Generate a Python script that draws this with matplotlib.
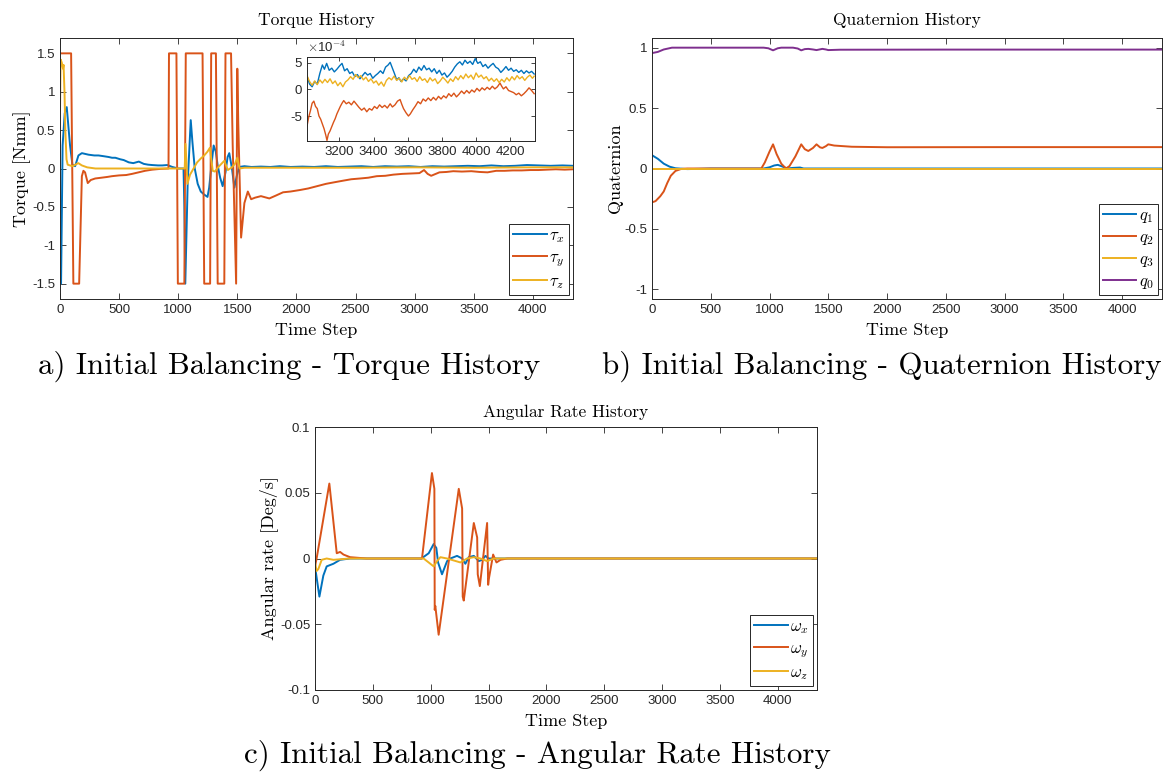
import matplotlib
matplotlib.use("Agg")
import matplotlib.pyplot as plt
from matplotlib.ticker import FuncFormatter

plt.rcParams['axes.unicode_minus'] = False
plt.rcParams['mathtext.fontset'] = 'cm'
plt.rcParams['font.family'] = ['Liberation Sans', 'DejaVu Sans']

C_BLUE = '#0072BD'
C_ORANGE = '#D95319'
C_YELLOW = '#EDB120'
C_PURPLE = '#7E2F8E'
AX_COLOR = '#262626'

# ---------------- Torque history (main) ----------------
tau_x_t = [0, 9, 22, 40, 57, 85, 105, 128, 156, 185, 241, 290, 326, 370, 411, 440, 468, 510, 539, 582, 620, 667, 709, 745, 780, 830, 865, 908, 950,
           1000, 1045, 1052, 1060, 1080, 1106, 1120, 1140, 1165, 1191, 1220, 1248, 1262, 1285, 1300, 1318, 1333, 1355, 1376, 1400, 1418, 1432, 1455, 1475,
           1495, 1516, 1560, 1620, 1700, 1780, 1860, 1950, 2050, 2150, 2250, 2350, 2450, 2550, 2650, 2750, 2850, 2950, 3050, 3150, 3250, 3350, 3450,
           3550, 3650, 3750, 3850, 3950, 4050, 4150, 4250, 4340]
tau_x_v = [-1.5, -1.5, 0.3, 0.72, 0.8, 0.3, 0.05, 0.03, 0.17, 0.2, 0.18, 0.17, 0.17, 0.16, 0.15, 0.14, 0.14, 0.12, 0.11, 0.08, 0.07, 0.09, 0.06, 0.05,
           0.045, 0.04, 0.04, 0.045, 0.02, 0.0, 0.0, -0.5, -1.5, -0.2, 0.63, 0.35, 0.0, -0.2, -0.3, -0.34, -0.37, -0.25, 0.1, 0.3, 0.22, 0.05, -0.12,
           -0.23, -0.05, 0.15, 0.2, 0.0, -0.25, -0.1, 0.02, 0.03, 0.02, 0.025, 0.02, 0.03, 0.02, 0.025, 0.02, 0.03, 0.02, 0.025, 0.03, 0.02, 0.03,
           0.025, 0.03, 0.02, 0.03, 0.025, 0.03, 0.035, 0.03, 0.04, 0.03, 0.035, 0.045, 0.04, 0.035, 0.04, 0.035]

tau_y_t = [0, 94, 113, 162, 185, 198, 212, 235, 260, 298, 350, 400, 440, 500, 560, 610, 665, 720, 780, 850, 918, 922, 985, 997, 1052, 1064,
           1206, 1220, 1270, 1279, 1319, 1334, 1390, 1400, 1447, 1461, 1490, 1500, 1508, 1532, 1560, 1589, 1617, 1650, 1700, 1771, 1830, 1887, 1950,
           2031, 2100, 2175, 2250, 2319, 2390, 2464, 2540, 2608, 2680, 2752, 2820, 2896, 2970, 3041, 3080, 3110, 3140, 3210, 3270, 3327, 3400,
           3480, 3550, 3617, 3690, 3762, 3830, 3906, 3980, 4050, 4120, 4195, 4270, 4340]
tau_y_v = [1.5, 1.5, -1.5, -1.5, -0.1, -0.03, -0.05, -0.19, -0.15, -0.13, -0.12, -0.11, -0.1, -0.09, -0.085, -0.07, -0.05, -0.03, -0.015,
           -0.005, 0.0, 1.5, 1.5, -1.5, -1.5, 1.5, 1.5, -1.5, -1.5, 1.5, 1.5, -1.5, -1.5, 1.5, 1.5, 0.3, -1.5, 1.3, 0.6, -0.9, -0.45, -0.3, -0.4,
           -0.38, -0.36, -0.39, -0.35, -0.31, -0.3, -0.28, -0.26, -0.23, -0.2, -0.18, -0.16, -0.14, -0.13, -0.12, -0.1, -0.095, -0.08, -0.07,
           -0.065, -0.06, -0.02, -0.07, -0.095, -0.05, -0.045, -0.035, -0.04, -0.035, -0.045, -0.05, -0.03, -0.03, -0.025, -0.025, -0.02, -0.02,
           -0.015, -0.01, -0.015, -0.01]

tau_z_t = [0, 5, 15, 25, 30, 38, 45, 55, 65, 85, 105, 130, 155, 185, 230, 300, 500, 700, 900, 1055, 1062, 1078, 1100, 1130, 1160, 1191,
           1220, 1248, 1268, 1280, 1292, 1310, 1340, 1365, 1390, 1410, 1420, 1450, 1480, 1500, 1512, 1520, 1560, 2000, 2500, 3000, 3500, 4000, 4340]
tau_z_v = [0.75, 1.42, 1.38, 1.3, 1.35, 1.0, 0.5, 0.12, 0.05, 0.04, 0.03, 0.05, 0.07, 0.04, 0.015, 0.0, 0.0, 0.0, 0.0, 0.0, 0.32, -0.2,
           -0.08, 0.0, 0.08, 0.13, 0.17, 0.22, 0.27, 0.12, -0.03, -0.04, 0.02, 0.06, 0.1, 0.02, -0.02, 0.01, 0.06, 0.14, 0.05, 0.0, 0.01,
           0.01, 0.01, 0.015, 0.01, 0.015, 0.015]

# ---------------- Torque history (inset, units of 1e-4) ----------------
inset_x_t = [3010, 3025, 3040, 3055, 3070, 3085, 3100, 3112, 3125, 3140, 3155, 3170, 3185, 3200, 3215, 3230, 3245, 3260, 3275, 3290, 3305,
             3320, 3335, 3350, 3365, 3380, 3395, 3410, 3425, 3440, 3455, 3470, 3485, 3497, 3510, 3522, 3535, 3548, 3560, 3575, 3590, 3605,
             3620, 3635, 3650, 3665, 3680, 3695, 3710, 3725, 3740, 3755, 3770, 3785, 3800, 3815, 3830, 3845, 3860, 3875, 3890, 3905, 3920,
             3935, 3950, 3965, 3980, 3995, 4010, 4025, 4040, 4055, 4070, 4085, 4100, 4115, 4130, 4145, 4160, 4175, 4190, 4205, 4220, 4235,
             4250, 4265, 4280, 4295, 4310, 4325, 4340]
inset_x_v = [2.5, 1.0, 0.5, 1.5, 1.0, 3.0, 4.6, 3.8, 4.9, 3.6, 4.0, 3.3, 3.8, 4.4, 4.9, 3.5, 3.9, 3.0, 3.3, 2.4, 2.8, 2.0, 2.6, 3.2, 2.7,
             3.0, 2.1, 2.6, 3.0, 3.5, 3.0, 4.2, 4.6, 5.1, 4.0, 3.0, 1.8, 2.2, 1.5, 2.0, 1.6, 2.6, 3.0, 3.8, 3.2, 4.2, 3.6, 4.5, 3.7, 4.0, 3.3,
             3.9, 3.0, 3.6, 2.7, 3.1, 2.3, 2.8, 3.4, 4.2, 4.8, 5.2, 4.6, 5.5, 4.9, 5.3, 4.7, 5.8, 4.9, 5.2, 4.3, 4.7, 4.0, 4.5, 4.9, 4.2, 3.9,
             3.2, 3.7, 4.3, 3.6, 4.0, 3.4, 3.7, 3.2, 3.6, 3.0, 3.5, 3.1, 3.4, 2.9]

inset_z_t = [3010, 3025, 3040, 3055, 3070, 3085, 3100, 3115, 3130, 3145, 3160, 3175, 3190, 3205, 3220, 3235, 3250, 3265, 3280, 3295, 3310,
             3325, 3340, 3355, 3370, 3385, 3400, 3415, 3430, 3445, 3460, 3475, 3490, 3505, 3520, 3535, 3550, 3565, 3580, 3595, 3610, 3625,
             3640, 3655, 3670, 3685, 3700, 3715, 3730, 3745, 3760, 3775, 3790, 3805, 3820, 3835, 3850, 3865, 3880, 3895, 3910, 3925, 3940,
             3955, 3970, 3985, 4000, 4015, 4030, 4045, 4060, 4075, 4090, 4105, 4120, 4135, 4150, 4165, 4180, 4195, 4210, 4225, 4240, 4255,
             4270, 4285, 4300, 4315, 4330, 4340]
inset_z_v = [2.6, 1.5, 0.8, 1.6, 0.9, 1.8, 1.2, 1.9, 1.3, 2.0, 1.1, 1.6, 0.7, 1.3, 0.5, 1.4, 1.8, 2.4, 1.9, 2.8, 2.2, 2.6, 1.8, 2.3, 1.5,
             2.0, 1.2, 1.6, 0.8, 1.4, 0.6, 1.7, 2.2, 1.8, 2.5, 1.7, 2.1, 1.4, 2.3, 1.8, 2.6, 1.9, 2.2, 1.5, 2.4, 1.7, 2.0, 1.3, 2.2, 1.6, 2.0,
             1.1, 1.6, 2.3, 1.8, 1.2, 2.0, 1.5, 2.4, 1.8, 2.6, 2.0, 2.9, 2.2, 2.7, 1.9, 3.1, 2.3, 2.7, 2.0, 2.4, 1.6, 2.1, 1.5, 2.0, 1.3, 1.9,
             1.4, 2.2, 1.6, 2.4, 1.8, 2.6, 2.0, 2.4, 1.7, 2.3, 2.7, 2.1, 2.5]

inset_y_t = [3010, 3020, 3030, 3040, 3050, 3060, 3070, 3080, 3090, 3100, 3110, 3120, 3127, 3135, 3145, 3155, 3165, 3175, 3185, 3195, 3205,
             3215, 3225, 3240, 3255, 3270, 3285, 3300, 3315, 3330, 3345, 3360, 3375, 3390, 3405, 3420, 3435, 3450, 3465, 3480, 3497, 3510,
             3525, 3540, 3555, 3565, 3575, 3590, 3604, 3615, 3630, 3645, 3660, 3675, 3690, 3705, 3720, 3735, 3750, 3765, 3780, 3795, 3810,
             3825, 3840, 3855, 3870, 3885, 3900, 3915, 3930, 3945, 3960, 3975, 3990, 4005, 4020, 4035, 4050, 4065, 4080, 4095, 4110, 4125,
             4140, 4150, 4160, 4175, 4190, 4205, 4220, 4235, 4250, 4265, 4280, 4295, 4310, 4325, 4340]
inset_y_v = [-6.9, -5.2, -4.0, -2.6, -2.2, -3.2, -3.6, -5.0, -5.6, -6.5, -7.4, -8.6, -9.6, -8.4, -7.8, -7.0, -6.2, -5.5, -4.6, -3.9, -3.2,
             -2.6, -2.1, -2.7, -2.4, -2.9, -2.2, -2.8, -3.4, -3.9, -3.5, -4.2, -3.6, -3.9, -3.2, -3.6, -2.9, -3.4, -3.0, -3.5, -2.7, -3.3,
             -2.9, -2.2, -1.9, -2.8, -3.6, -4.4, -5.0, -4.6, -3.8, -3.1, -2.3, -2.7, -1.8, -2.2, -1.6, -2.1, -1.5, -2.0, -1.3, -1.8, -1.2,
             -1.6, -0.8, -1.3, -0.7, -1.4, -0.9, -0.3, -0.8, -0.2, -0.7, -0.1, -0.5, 0.2, -0.3, 0.3, -0.1, 0.4, 0.0, 0.6, 0.1, 0.5, 1.2, 0.6,
             0.1, 0.5, -0.2, -0.4, -0.6, -1.0, -0.7, -1.2, -0.8, -0.3, 0.3, -0.2, -0.8]

# ---------------- Quaternion history ----------------
q0_t = [0, 50, 100, 170, 500, 950, 990, 1030, 1070, 1100, 1200, 1240, 1270, 1300, 1330, 1370, 1400, 1450, 1480, 1500, 1600, 2500, 4340]
q0_v = [0.955, 0.965, 0.985, 1.0, 1.0, 1.0, 0.995, 0.978, 0.995, 1.0, 1.0, 0.993, 0.978, 0.988, 0.99, 0.985, 0.98, 0.99, 0.985, 0.98,
        0.983, 0.984, 0.984]
q1_t = [0, 50, 100, 150, 200, 300, 400, 500, 950, 1000, 1040, 1070, 1100, 1120, 1150, 1200, 1260, 1290, 1500, 4340]
q1_v = [0.11, 0.08, 0.04, 0.015, 0.002, -0.005, -0.003, 0.0, 0.0, 0.01, 0.025, 0.03, 0.02, 0.012, 0.0, 0.005, 0.008, 0.0, 0.0, 0.0]
q2_t = [0, 30, 70, 100, 130, 160, 200, 250, 300, 930, 960, 1000, 1030, 1060, 1100, 1140, 1170, 1220, 1270, 1300, 1330, 1370, 1400,
        1430, 1450, 1480, 1500, 1550, 1700, 2000, 3000, 4340]
q2_v = [-0.28, -0.27, -0.23, -0.19, -0.12, -0.06, -0.02, -0.003, 0.0, 0.0, 0.05, 0.14, 0.2, 0.12, 0.04, 0.0, 0.02, 0.1, 0.2, 0.16,
        0.145, 0.17, 0.2, 0.175, 0.17, 0.185, 0.2, 0.19, 0.18, 0.176, 0.177, 0.177]
q3_t = [0, 1000, 2000, 3000, 4340]
q3_v = [0.0, 0.0, 0.0, 0.0, 0.0]

# ---------------- Angular rate history ----------------
w_x_t = [0, 38, 72, 101, 159, 217, 303, 920, 983, 1026, 1049, 1064, 1098, 1142, 1170, 1228, 1272, 1300, 1329, 1373, 1416, 1445, 1474,
         1500, 1550, 4340]
w_x_v = [-0.006, -0.029, -0.013, -0.006, -0.004, -0.001, 0.0, 0.0, 0.004, 0.011, 0.008, -0.003, -0.012, -0.002, 0.0, 0.002, 0.0, -0.004,
         0.001, 0.002, -0.002, -0.001, 0.002, 0.0, 0.0, 0.0]
w_y_t = [0, 14, 124, 188, 217, 246, 303, 448, 925, 1011, 1032, 1035, 1040, 1069, 1243, 1272, 1277, 1286, 1373, 1402, 1407, 1425, 1488,
         1497, 1502, 1540, 1569, 1604, 1662, 4340]
w_y_v = [-0.006, 0.0, 0.057, 0.004, 0.005, 0.003, 0.001, 0.0, 0.0, 0.065, 0.053, -0.039, -0.036, -0.058, 0.053, 0.038, -0.029, -0.032,
         0.027, 0.016, -0.012, -0.021, 0.027, -0.02, -0.016, 0.003, -0.003, -0.001, 0.0, 0.0]
w_z_t = [0, 14, 29, 58, 101, 159, 300, 939, 1026, 1055, 1084, 1142, 1257, 1315, 1373, 1431, 1488, 1546, 4340]
w_z_v = [-0.003, -0.0095, -0.008, -0.001, 0.0, -0.001, 0.0, 0.0, -0.006, -0.002, 0.001, 0.0, -0.003, 0.0, 0.001, 0.0, -0.002, 0.0, 0.0]

xticks = [0, 500, 1000, 1500, 2000, 2500, 3000, 3500, 4000]
XMAX = 4340

W, H = 1164, 773
fig = plt.figure(figsize=(W / 100, H / 100), dpi=100)


def box(l, t, r, b):
    return [l / W, 1 - b / H, (r - l) / W, (b - t) / H]


gfmt = FuncFormatter(lambda v, p: '%g' % v)


def style(ax, fs=9.5):
    ax.tick_params(direction='in', top=True, right=True, length=4, width=0.6, colors=AX_COLOR, labelsize=fs)
    for s in ax.spines.values():
        s.set_color(AX_COLOR)
        s.set_linewidth(0.7)
    ax.yaxis.set_major_formatter(gfmt)


def legend(ax, spacing):
    leg = ax.legend(loc='lower right', fancybox=False, edgecolor=AX_COLOR, framealpha=1, fontsize=12,
                    handlelength=2.0, borderaxespad=0.25, labelspacing=spacing, handletextpad=0.15,
                    borderpad=0.25)
    leg.get_frame().set_linewidth(0.7)


SERIF = 'cmr10'
LW = 1.4
TFS = 12.5
LFS = 13
TPAD = 9
XLPAD = 5

# ---- panel a ----
axa = fig.add_axes(box(60, 38, 573, 299))
axa.plot(tau_x_t, tau_x_v, color=C_BLUE, lw=LW, label=r'$\tau_x$')
axa.plot(tau_y_t, tau_y_v, color=C_ORANGE, lw=LW, label=r'$\tau_y$')
axa.plot(tau_z_t, tau_z_v, color=C_YELLOW, lw=LW, label=r'$\tau_z$')
axa.set_xlim(0, XMAX)
axa.set_ylim(-1.7, 1.7)
axa.set_xticks(xticks)
axa.set_yticks([-1.5, -1, -0.5, 0, 0.5, 1, 1.5])
style(axa)
axa.set_title('Torque History', fontfamily=SERIF, fontsize=TFS, pad=TPAD)
axa.set_xlabel('Time Step', fontfamily=SERIF, fontsize=LFS, labelpad=XLPAD)
axa.set_ylabel('Torque [Nmm]', fontfamily=SERIF, fontsize=LFS, labelpad=1)
legend(axa, 0.3)

# inset
axi = fig.add_axes(box(307, 57, 535, 141))
axi.plot(inset_x_t, inset_x_v, color=C_BLUE, lw=1.0)
axi.plot(inset_y_t, inset_y_v, color=C_ORANGE, lw=1.0)
axi.plot(inset_z_t, inset_z_v, color=C_YELLOW, lw=1.0)
axi.set_xlim(3010, 4345)
axi.set_ylim(-9.7, 6.1)
axi.set_xticks([3200, 3400, 3600, 3800, 4000, 4200])
axi.set_yticks([-5, 0, 5])
style(axi, fs=9.5)
axi.tick_params(length=3)
axi.text(0.0, 1.02, r'$\times$10$^{-4}$', transform=axi.transAxes, fontsize=9.5, color=AX_COLOR, va='bottom', ha='left')

# ---- panel b ----
axb = fig.add_axes(box(652, 38, 1162, 299))
axb.plot(q1_t, q1_v, color=C_BLUE, lw=LW, label=r'$q_1$')
axb.plot(q2_t, q2_v, color=C_ORANGE, lw=LW, label=r'$q_2$')
axb.plot(q3_t, q3_v, color=C_YELLOW, lw=LW, label=r'$q_3$')
axb.plot(q0_t, q0_v, color=C_PURPLE, lw=LW, label=r'$q_0$')
axb.set_xlim(0, XMAX)
axb.set_ylim(-1.08, 1.08)
axb.set_xticks(xticks)
axb.set_yticks([-1, -0.5, 0, 0.5, 1])
style(axb)
axb.set_title('Quaternion History', fontfamily=SERIF, fontsize=TFS, pad=TPAD)
axb.set_xlabel('Time Step', fontfamily=SERIF, fontsize=LFS, labelpad=XLPAD)
axb.set_ylabel('Quaternion', fontfamily=SERIF, fontsize=LFS, labelpad=1)
legend(axb, 0.3)

# ---- panel c ----
axc = fig.add_axes(box(315, 427, 817, 690))
axc.plot(w_x_t, w_x_v, color=C_BLUE, lw=LW, label=r'$\omega_x$')
axc.plot(w_y_t, w_y_v, color=C_ORANGE, lw=LW, label=r'$\omega_y$')
axc.plot(w_z_t, w_z_v, color=C_YELLOW, lw=LW, label=r'$\omega_z$')
axc.set_xlim(0, XMAX)
axc.set_ylim(-0.1, 0.1)
axc.set_xticks(xticks)
axc.set_yticks([-0.1, -0.05, 0, 0.05, 0.1])
style(axc)
axc.set_title('Angular Rate History', fontfamily=SERIF, fontsize=TFS, pad=TPAD - 2)
axc.set_xlabel('Time Step', fontfamily=SERIF, fontsize=LFS, labelpad=XLPAD)
axc.set_ylabel('Angular rate [Deg/s]', fontfamily=SERIF, fontsize=LFS, labelpad=1)
legend(axc, 0.3)

# captions
CFS = 22.3
fig.text(289 / W, 1 - 366 / H, 'a) Initial Balancing - Torque History', fontfamily=SERIF, fontsize=CFS, ha='center', va='center')
fig.text(882 / W, 1 - 366 / H, 'b) Initial Balancing - Quaternion History', fontfamily=SERIF, fontsize=CFS, ha='center', va='center')
fig.text(537 / W, 1 - 755 / H, 'c) Initial Balancing - Angular Rate History', fontfamily=SERIF, fontsize=CFS, ha='center', va='center')

fig.savefig('out.png', dpi=100)
